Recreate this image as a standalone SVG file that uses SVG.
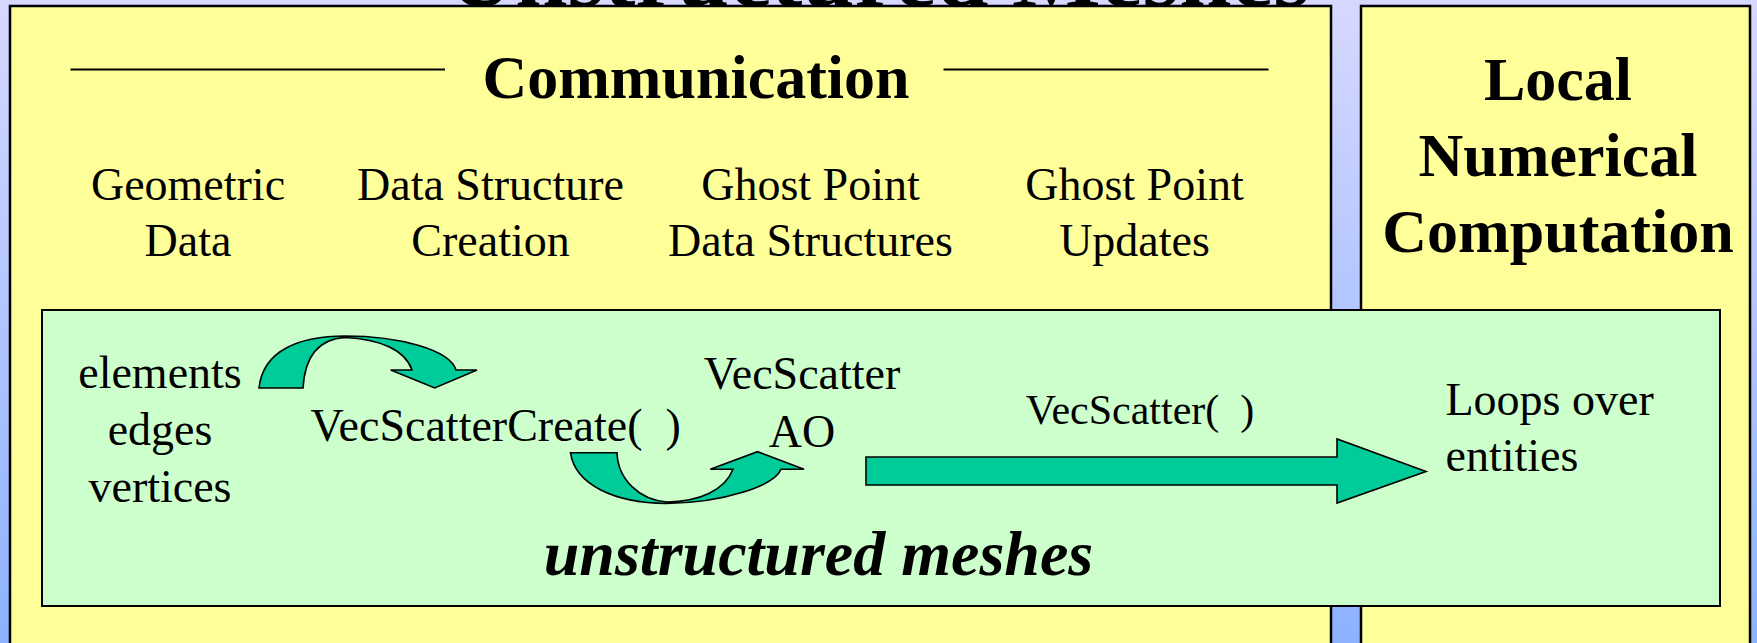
<svg xmlns="http://www.w3.org/2000/svg" width="1757" height="643" viewBox="0 0 1757 643">
  <defs>
    <linearGradient id="bg" x1="0" y1="0" x2="0" y2="1">
      <stop offset="0" stop-color="#D6D8FF"/>
      <stop offset="1" stop-color="#8CB2FF"/>
    </linearGradient>
  </defs>
  <style>
    .panel { fill: #FFFF99; stroke: #000; stroke-width: 2.5; }
    .inner { fill: #CCFFCC; stroke: #000; stroke-width: 2; }
    .rule { stroke: #000; stroke-width: 2; }
    .hd { font-family: "Liberation Serif", "Times New Roman", serif; font-weight: bold; font-size: 62px; fill: #000; text-anchor: middle; }
    .tx { font-family: "Liberation Serif", "Times New Roman", serif; font-size: 46px; fill: #000; }
    .c { text-anchor: middle; }
    .pre { white-space: pre; }
    .em { font-family: "Liberation Serif", "Times New Roman", serif; font-weight: bold; font-style: italic; font-size: 64px; fill: #000; text-anchor: middle; }
    .arrow { fill: #00CC99; stroke: #000; stroke-width: 1.6; stroke-linejoin: miter; }
  </style>

  <rect x="0" y="0" width="1757" height="643" fill="url(#bg)"/>
  <text x="878.5" y="6" class="hd" style="font-size:94px">Unstructured Meshes</text>

  <g id="communication">
    <rect class="panel" x="10" y="6" width="1321" height="660"/>
    <line class="rule" x1="70.5" y1="69.5" x2="445" y2="69.5"/>
    <line class="rule" x1="943.5" y1="69.5" x2="1268.5" y2="69.5"/>
    <text class="hd" x="696" y="98">Communication</text>
  </g>

  <g id="geometric-data">
    <text class="tx c" x="188" y="200">Geometric</text>
    <text class="tx c" x="188" y="256">Data</text>
  </g>
  <g id="data-structure-creation">
    <text class="tx c" x="490.5" y="200">Data Structure</text>
    <text class="tx c" x="490.5" y="256">Creation</text>
  </g>
  <g id="ghost-point-data-structures">
    <text class="tx c" x="810.5" y="200">Ghost Point</text>
    <text class="tx c" x="810.5" y="256">Data Structures</text>
  </g>
  <g id="ghost-point-updates">
    <text class="tx c" x="1134.5" y="200">Ghost Point</text>
    <text class="tx c" x="1134.5" y="256">Updates</text>
  </g>

  <g id="local-numerical-computation">
    <rect class="panel" x="1361" y="6" width="389" height="660"/>
    <text class="hd" x="1558" y="100">Local</text>
    <text class="hd" x="1558" y="176">Numerical</text>
    <text class="hd" x="1558" y="252">Computation</text>
  </g>

  <g id="unstructured-meshes">
    <rect class="inner" x="42" y="310" width="1678" height="296"/>
    <text class="em" x="818.5" y="575">unstructured meshes</text>
  </g>

  <g id="entities">
    <text class="tx c" x="160" y="387.5">elements</text>
    <text class="tx c" x="160" y="445">edges</text>
    <text class="tx c" x="160" y="502">vertices</text>
  </g>
  <g id="vecscattercreate">
    <text class="tx pre" x="310.5" y="440.5">VecScatterCreate(  )</text>
  </g>
  <g id="vecscatter-ao">
    <text class="tx c" x="802" y="389">VecScatter</text>
    <text class="tx c" x="802" y="446.5">AO</text>
  </g>
  <g id="loops-over-entities">
    <text class="tx" x="1445.5" y="415">Loops over</text>
    <text class="tx" x="1445.5" y="471">entities</text>
  </g>

  <g id="connectors">
    <path class="arrow" d="M 259 388 C 263 350 300 336 345 336 C 400 336 450 350 456 370 L 477 370 L 434.7 388 L 390.7 370 L 412 370 C 405 350 380 339 345 337.5 C 320 339 305 355 303 388 Z"/>
    <path class="arrow" d="M 570.5 452.7 C 575 485 615 503 666 503.5 C 725 503 775 485 781 469.3 L 804 469.3 L 757.5 451.7 L 710.3 469.3 L 733 469.3 C 725 490 700 501.5 667 502 C 640 500 618 480 617 452.7 Z"/>
    <path class="arrow" d="M 866 457 L 1337 457 L 1337 439 L 1426 471.5 L 1337 503 L 1337 485 L 866 485 Z"/>
    <text class="tx pre" x="1140" y="423.5" style="font-size:42px;text-anchor:middle">VecScatter(  )</text>
  </g>
</svg>
